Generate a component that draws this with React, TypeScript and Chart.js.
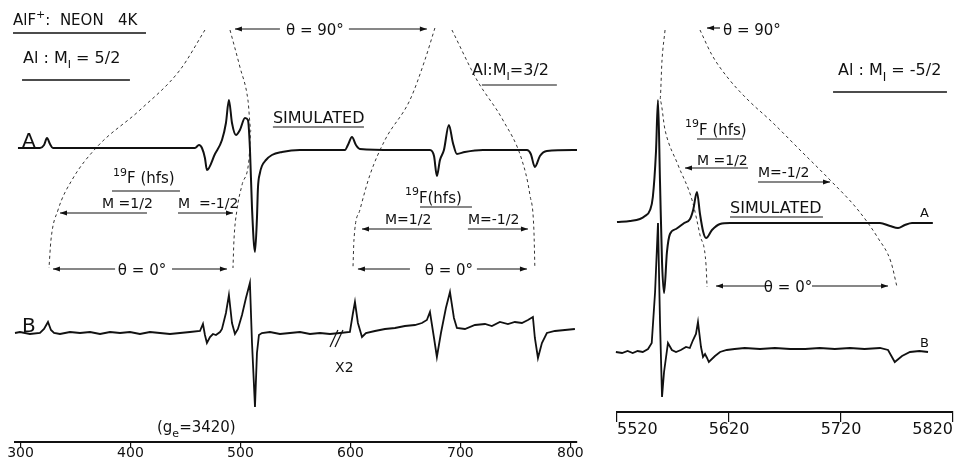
import React, { useEffect, useRef } from "react";
import { Chart, registerables } from "chart.js";

Chart.register(...registerables);

// ---------- axes ----------
const LEFT_TICKS = [300, 400, 500, 600, 700, 800];
const RIGHT_TICKS = [5520, 5620, 5720, 5820];

// ---------- left panel: trace A (simulated) ----------
const A_LEFT_FIELD = [297.7, 317.7, 321.4, 324.1, 326.8, 329.5, 390, 458.6, 462.3, 465, 467.7, 469.5, 476.8, 483.2, 486.8, 489.5, 492.3, 495.9, 499.5, 504.1, 506.8, 508.6, 510.5, 513.2, 515, 515.9, 517.7, 519.5, 523.2, 528.6, 537.7, 554, 595, 597.7, 601.4, 605, 608.6, 640, 672.3, 676, 678.6, 681.4, 685, 689.5, 693.2, 696.8, 704, 720.5, 760.5, 764, 767.7, 772.3, 778.6, 806];
const A_LEFT_SIGNAL = [0, 0, 3, 10, 4, 0, 0, 0, 3, 0, -10, -22, -6, 8, 25, 48, 25, 13, 18, 30, 28, 0, -60, -104, -70, -40, -25, -18, -12, -7, -4, -2, -2, 3, 11, 3, -1, -2, -2, -8, -28, -12, -2, 23, 5, -6, -4, -2, -2, -6, -19, -8, -3, -2];

// ---------- left panel: trace B (experimental) ----------
const B_LEFT_FIELD = [295, 299.5, 308.6, 317.7, 321.4, 325, 327.7, 330.5, 335.9, 345, 354.1, 363.2, 372.3, 381.4, 390.5, 399.5, 408.6, 417.7, 426.8, 435.9, 445, 454.1, 463.2, 465.9, 467.7, 469.5, 472.3, 475, 477.7, 481.4, 483.2, 486.8, 489.5, 492.3, 495, 497.7, 501.4, 505, 508.6, 510.5, 513.2, 515, 516.8, 519.5, 526.8, 535.9, 545, 554.1, 563.2, 572.3, 581.4, 590.5, 599.5, 602.3, 604.1, 606.8, 610.5, 614.1, 622.3, 631.4, 640.5, 649.5, 658.6, 665, 669.5, 672.3, 676, 678.6, 682.3, 686.8, 690.5, 694.1, 696.8, 704.1, 713.2, 722.3, 728.6, 735.9, 743.2, 749.5, 755.9, 761.4, 765.9, 767.7, 770.5, 774.1, 778.6, 785.9, 795, 804.1];
const B_LEFT_SIGNAL = [0, 1, -1, 0, 4, 11, 3, 0, -1, 1, 0, 1, -1, 1, 0, 1, -1, 1, 0, -1, 0, 1, 2, 9, -2, -10, -4, -1, -2, 1, 4, 20, 38, 10, -1, 4, 18, 35, 50, -10, -74, -20, -2, 0, 1, -1, 0, 1, -1, 0, -1, 0, 1, 20, 31, 10, -4, 0, 2, 4, 5, 7, 8, 10, 13, 21, -5, -24, 0, 25, 41, 15, 5, 4, 8, 9, 7, 11, 9, 11, 10, 13, 16, -5, -25, -10, 0, 2, 3, 4];

// ---------- right panel: trace A (simulated) ----------
const A_RIGHT_FIELD = [5520, 5531.6, 5540.5, 5545, 5549.5, 5552, 5554.8, 5556.6, 5558.4, 5560.2, 5562, 5564.6, 5567.3, 5572.7, 5580, 5585.2, 5588, 5591.4, 5594.1, 5597, 5599.5, 5604.8, 5612, 5620.9, 5745.9, 5754.8, 5763.8, 5770.9, 5777, 5783.4, 5802];
const A_RIGHT_SIGNAL = [0, 1, 3, 6, 12, 25, 70, 122, 40, -40, -71, -30, -12, -7, -1, 3, 12, 30, 8, -10, -16, -8, -2, -1, -1, -1, -4, -6, -3, -1, -1];

// ---------- right panel: trace B (experimental) ----------
const B_RIGHT_FIELD = [5519, 5524.5, 5529.5, 5534, 5538.4, 5543, 5547.7, 5551, 5554, 5556.6, 5558.4, 5560.2, 5562, 5565.5, 5569, 5572.7, 5577, 5581.6, 5585, 5587.9, 5590.5, 5592.3, 5595, 5596.8, 5598.6, 5600.4, 5602, 5607.5, 5612, 5618, 5625, 5634, 5647.7, 5661, 5674.6, 5688, 5701, 5714.5, 5728, 5741, 5754.8, 5762, 5768, 5774.5, 5781.6, 5790, 5797.7];
const B_RIGHT_SIGNAL = [0, -1, 1, -1, 1, 0, 3, 9, 60, 129, 30, -45, -20, 9, 2, 0, 2, 5, 4, 12, 18, 30, 5, -5, -2, -6, -10, -4, 0, 2, 3, 4, 3, 4, 3, 3, 4, 3, 4, 3, 4, 2, -10, -4, 0, 1, 0];

// ---------- dashed guide curves (field, height) ----------
const L1_FIELD = [467.7, 445, 408.6, 369.5, 346.8, 334.1, 327.7, 325.9];
const L1_HEIGHT = [412, 372, 332, 295, 262, 232, 202, 174];
const L2_FIELD = [490.5, 499.5, 506.8, 509.5, 507.7, 501.4, 496.8, 494.1, 493.2];
const L2_HEIGHT = [412, 375, 342, 312, 282, 257, 232, 202, 174];
const L3_FIELD = [676.8, 667.7, 654.1, 631.4, 617.7, 608.6, 603.2, 602.3];
const L3_HEIGHT = [414, 382, 342, 302, 267, 232, 202, 174];
const L4_FIELD = [692.3, 715, 738.6, 755.9, 763.2, 766.8, 767.7];
const L4_HEIGHT = [412, 362, 322, 282, 247, 212, 174];
const R1_FIELD = [5562.9, 5560.2, 5558.4, 5562.9, 5574.5, 5587, 5594.1, 5599.5, 5600.4];
const R1_HEIGHT = [382, 352, 312, 282, 247, 212, 177, 147, 125];
const R2_FIELD = [5594.1, 5604.8, 5619.1, 5637, 5658.4, 5683.4, 5710.2, 5735.2, 5753, 5764.6, 5770];
const R2_HEIGHT = [382, 357, 334, 312, 290, 262, 232, 202, 174, 150, 125];

// trace baselines (height units)
const A_LEFT_BASE = 294;
const B_LEFT_BASE = 109;
const A_RIGHT_BASE = 190;
const B_RIGHT_BASE = 60;

const INK = "#111";
const FONT = '"DejaVu Sans", "Liberation Sans", sans-serif';

type Seg = { t: string; size?: number; dy?: number };
type Note =
  | { kind: "text"; x: number; y: number; size: number; segs: Seg[]; align?: "left" | "center" }
  | { kind: "line"; x1: number; y1: number; x2: number; y2: number; head?: boolean; w?: number };

const T = (x: number, y: number, size: number, segs: Seg[] | string, align: "left" | "center" = "left"): Note => ({
  kind: "text", x, y, size, segs: typeof segs === "string" ? [{ t: segs }] : segs, align,
});
const L = (x1: number, y1: number, x2: number, y2: number, head = false, w = 1.2): Note => ({ kind: "line", x1, y1, x2, y2, head, w });

const LEFT_NOTES: Note[] = [
  T(293.2, 417, 15, [{ t: "AlF" }, { t: "+", size: 11, dy: -7 }, { t: ":  NEON   4K" }]),
  L(293.2, 409, 414.1, 409, false, 1.3),
  T(302.3, 379, 16, [{ t: "Al : M" }, { t: "I", size: 11, dy: 5 }, { t: " = 5/2" }]),
  L(301.4, 362, 399.5, 362, false, 1.3),
  T(301.4, 295, 20, "A"),
  T(529.5, 319.3, 16, "SIMULATED"),
  L(529.5, 315, 612.3, 315),
  L(535.9, 413, 495, 413, true),
  T(567.7, 407, 15, "θ = 90°", "center"),
  L(598.6, 413, 669.5, 413, true),
  T(710.5, 367, 16, [{ t: "Al:M" }, { t: "I", size: 11, dy: 5 }, { t: "=3/2" }]),
  L(719.5, 357, 787.7, 357),
  T(384.1, 259, 15, [{ t: "19", size: 11, dy: -7 }, { t: "F (hfs)" }]),
  L(383.2, 251, 445, 251),
  T(374.1, 234, 14, "M =1/2"),
  L(415, 229, 335.9, 229, true),
  T(443.2, 234, 14, "M  =-1/2"),
  L(443.2, 229, 493.2, 229, true),
  L(386, 173, 329.5, 173, true),
  T(410.5, 167, 15, "θ = 0°", "center"),
  L(437.7, 173, 487.7, 173, true),
  T(649.5, 239, 15, [{ t: "19", size: 11, dy: -8 }, { t: "F(hfs)" }]),
  L(663.2, 235, 710.5, 235),
  T(631.4, 218, 14, "M=1/2"),
  L(674.1, 213, 610.5, 213, true),
  T(706.8, 218, 14, "M=-1/2"),
  L(706.8, 213, 761.4, 213, true),
  L(654.1, 173, 606.8, 173, true),
  T(689.5, 167, 15, "θ = 0°", "center"),
  L(715, 173, 760.5, 173, true),
  T(301.4, 110, 20, "B"),
  L(581.4, 95, 588.6, 112),
  L(586, 95, 593.2, 112),
  T(586, 70, 14, "X2"),
  T(424.1, 10, 15, [{ t: "(g" }, { t: "e", size: 11, dy: 5 }, { t: "=3420)" }]),
];

const RIGHT_NOTES: Note[] = [
  L(5612, 384, 5600.4, 384, true),
  T(5614.6, 377, 15, "θ = 90°"),
  T(5717.3, 337, 16, [{ t: "Al : M" }, { t: "I", size: 12, dy: 6 }, { t: " = -5/2" }]),
  L(5712.9, 320, 5814.6, 320, false, 1.3),
  T(5580.7, 277, 15, [{ t: "19", size: 11, dy: -8 }, { t: "F (hfs)" }]),
  L(5591.4, 273, 5632.5, 273),
  T(5591.4, 247, 14, "M =1/2"),
  L(5637, 244, 5580.7, 244, true),
  T(5645.9, 235, 14, "M=-1/2"),
  L(5645.9, 230, 5710.2, 230, true),
  T(5620.9, 199, 16, "SIMULATED"),
  L(5620.9, 195, 5703.9, 195),
  T(5790.5, 195, 13, "A"),
  L(5652.1, 126, 5608.4, 126, true),
  T(5672.7, 120, 15, "θ = 0°", "center"),
  L(5694.1, 126, 5762, 126, true),
  T(5790.5, 65, 13, "B"),
];

function pts(xs: number[], ys: number[], base = 0) {
  return xs.map((x, i) => ({ x, y: ys[i] + base }));
}

function arrowHead(ctx: CanvasRenderingContext2D, fx: number, fy: number, tx: number, ty: number) {
  const a = Math.atan2(ty - fy, tx - fx);
  const len = 7;
  const hw = 2.6;
  ctx.beginPath();
  ctx.moveTo(tx, ty);
  ctx.lineTo(tx - len * Math.cos(a) + hw * Math.sin(a), ty - len * Math.sin(a) - hw * Math.cos(a));
  ctx.lineTo(tx - len * Math.cos(a) - hw * Math.sin(a), ty - len * Math.sin(a) + hw * Math.cos(a));
  ctx.closePath();
  ctx.fill();
}

function notesPlugin(id: string, notes: Note[]) {
  return {
    id,
    afterDatasetsDraw(chart: any) {
      const ctx: CanvasRenderingContext2D = chart.ctx;
      const xs = chart.scales.x;
      const ys = chart.scales.y;
      ctx.save();
      ctx.fillStyle = INK;
      ctx.strokeStyle = INK;
      ctx.setLineDash([]);
      for (const n of notes) {
        if (n.kind === "line") {
          const x1 = xs.getPixelForValue(n.x1);
          const y1 = ys.getPixelForValue(n.y1);
          const x2 = xs.getPixelForValue(n.x2);
          const y2 = ys.getPixelForValue(n.y2);
          ctx.lineWidth = n.w ?? 1.2;
          ctx.beginPath();
          ctx.moveTo(x1, y1);
          ctx.lineTo(x2, y2);
          ctx.stroke();
          if (n.head) arrowHead(ctx, x1, y1, x2, y2);
        } else {
          let total = 0;
          for (const s of n.segs) {
            ctx.font = `${s.size ?? n.size}px ${FONT}`;
            total += ctx.measureText(s.t).width;
          }
          let px = xs.getPixelForValue(n.x) - (n.align === "center" ? total / 2 : 0);
          const py = ys.getPixelForValue(n.y);
          ctx.textAlign = "left";
          ctx.textBaseline = "alphabetic";
          for (const s of n.segs) {
            ctx.font = `${s.size ?? n.size}px ${FONT}`;
            ctx.fillText(s.t, px, py + (s.dy ?? 0));
            px += ctx.measureText(s.t).width;
          }
        }
      }
      ctx.restore();
    },
  };
}

const traceDs = (data: any[], smooth: boolean, w = 2) => ({
  data,
  borderColor: INK,
  borderWidth: w,
  pointRadius: 0,
  fill: false,
  clip: false as const,
  tension: 0,
  cubicInterpolationMode: smooth ? ("monotone" as const) : ("default" as const),
});
const dashDs = (data: any[]) => ({
  data,
  borderColor: "#333",
  borderWidth: 1,
  borderDash: [3, 3],
  pointRadius: 0,
  fill: false,
  clip: false as const,
  tension: 0.4,
  cubicInterpolationMode: "monotone" as const,
});

type PanelOpts = {
  id: string;
  datasets: any[];
  notes: Note[];
  xMin: number;
  xMax: number;
  yMax: number;
  ticks: number[];
  padLeft: number;
  padRight: number;
  axisH: number;
  tickLen: number;
  tickPad: number;
  tickSize: number;
  align: "center" | "inner";
};

function makeConfig(o: PanelOpts): any {
  return {
    type: "line",
    data: { datasets: o.datasets },
    options: {
      responsive: false,
      animation: false,
      devicePixelRatio: 1,
      events: [],
      layout: { padding: { left: o.padLeft, right: o.padRight, top: 0, bottom: 0 } },
      plugins: { legend: { display: false }, tooltip: { enabled: false } },
      scales: {
        x: {
          type: "linear",
          min: o.xMin,
          max: o.xMax,
          afterBuildTicks: (s: any) => {
            s.ticks = o.ticks.map((v) => ({ value: v }));
          },
          afterFit: (s: any) => {
            s.height = o.axisH;
          },
          border: { display: true, color: INK, width: 2 },
          grid: { display: true, drawOnChartArea: false, drawTicks: true, tickLength: o.tickLen, color: INK, lineWidth: 1.2 },
          ticks: {
            color: INK,
            font: { family: FONT, size: o.tickSize },
            padding: o.tickPad,
            maxRotation: 0,
            autoSkip: false,
            align: o.align,
            callback: (v: any) => String(v),
          },
        },
        y: { type: "linear", display: false, min: 0, max: o.yMax },
      },
    },
    plugins: [notesPlugin(o.id, o.notes)],
  };
}

function Panel({ cfg, left, width, height }: { cfg: () => any; left: number; width: number; height: number }) {
  const ref = useRef<HTMLCanvasElement>(null);
  useEffect(() => {
    const chart = new Chart(ref.current as HTMLCanvasElement, cfg());
    return () => chart.destroy();
  }, []);
  return (
    <canvas
      ref={ref}
      width={width}
      height={height}
      style={{ position: "absolute", left, top: 0, width, height, display: "block" }}
    />
  );
}

const leftCfg = () =>
  makeConfig({
    id: "leftNotes",
    datasets: [
      traceDs(pts(A_LEFT_FIELD, A_LEFT_SIGNAL, A_LEFT_BASE), true),
      traceDs(pts(B_LEFT_FIELD, B_LEFT_SIGNAL, B_LEFT_BASE), false, 1.8),
      dashDs(pts(L1_FIELD, L1_HEIGHT)),
      dashDs(pts(L2_FIELD, L2_HEIGHT)),
      dashDs(pts(L3_FIELD, L3_HEIGHT)),
      dashDs(pts(L4_FIELD, L4_HEIGHT)),
    ],
    notes: LEFT_NOTES,
    xMin: 295,
    xMax: 806,
    yMax: 442,
    ticks: LEFT_TICKS,
    padLeft: 15,
    padRight: 23,
    axisH: 23,
    tickLen: 5,
    tickPad: -2,
    tickSize: 14,
    align: "center",
  });

const rightCfg = () =>
  makeConfig({
    id: "rightNotes",
    datasets: [
      traceDs(pts(A_RIGHT_FIELD, A_RIGHT_SIGNAL, A_RIGHT_BASE), true),
      traceDs(pts(B_RIGHT_FIELD, B_RIGHT_SIGNAL, B_RIGHT_BASE), false, 1.8),
      dashDs(pts(R1_FIELD, R1_HEIGHT)),
      dashDs(pts(R2_FIELD, R2_HEIGHT)),
    ],
    notes: RIGHT_NOTES,
    xMin: 5520,
    xMax: 5820,
    yMax: 412,
    ticks: RIGHT_TICKS,
    padLeft: 17,
    padRight: 4,
    axisH: 53,
    tickLen: 10,
    tickPad: -2,
    tickSize: 16,
    align: "inner",
  });

export default function App() {
  return (
    <div
      style={{
        position: "absolute",
        left: 0,
        top: 0,
        width: 957,
        height: 465,
        background: "#fff",
        overflow: "hidden",
      }}
    >
      <Panel cfg={leftCfg} left={0} width={600} height={465} />
      <Panel cfg={rightCfg} left={600} width={357} height={465} />
    </div>
  );
}
